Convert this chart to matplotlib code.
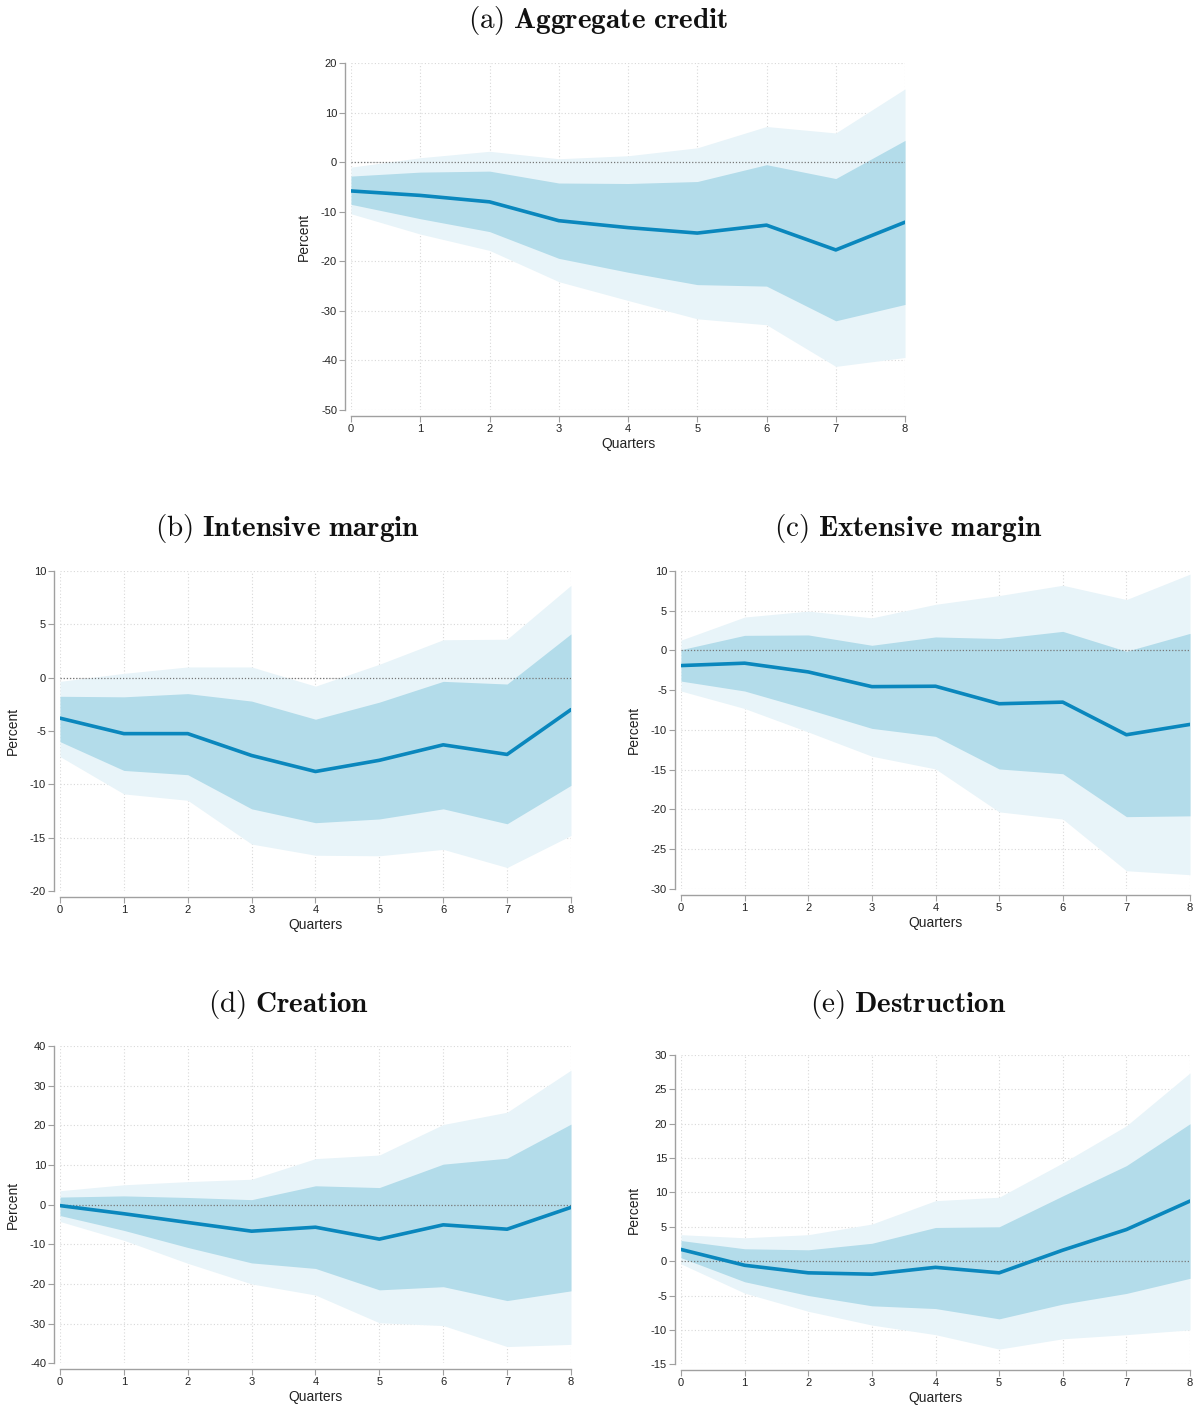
import numpy as np
import matplotlib
matplotlib.use('Agg')
import matplotlib.pyplot as plt

plt.rcParams['mathtext.fontset'] = 'cm'
plt.rcParams['font.family'] = ['Liberation Sans', 'DejaVu Sans']

quarters = [0, 1, 2, 3, 4, 5, 6, 7, 8]

# (a) Aggregate credit
agg_irf = [-5.8, -6.7, -8.0, -11.8, -13.2, -14.3, -12.7, -17.7, -12.1]
agg_hi68 = [-2.8, -2.0, -1.8, -4.2, -4.3, -3.9, -0.5, -3.3, 4.4]
agg_lo68 = [-8.5, -11.4, -14.0, -19.4, -22.2, -24.7, -25.0, -32.0, -28.7]
agg_hi90 = [-1.0, 0.9, 2.2, 0.7, 1.3, 2.9, 7.2, 5.9, 14.8]
agg_lo90 = [-10.4, -14.5, -17.8, -24.1, -27.9, -31.6, -32.8, -41.2, -39.4]

# (b) Intensive margin
int_irf = [-3.8, -5.25, -5.25, -7.3, -8.8, -7.75, -6.3, -7.2, -3.0]
int_hi68 = [-1.75, -1.8, -1.5, -2.2, -3.9, -2.3, -0.35, -0.6, 4.1]
int_lo68 = [-6.0, -8.7, -9.1, -12.3, -13.6, -13.25, -12.3, -13.7, -10.1]
int_hi90 = [-0.35, 0.4, 1.0, 1.0, -0.8, 1.25, 3.55, 3.6, 8.65]
int_lo90 = [-7.4, -10.9, -11.5, -15.6, -16.65, -16.7, -16.1, -17.8, -14.8]

# (c) Extensive margin
ext_irf = [-1.9, -1.6, -2.7, -4.55, -4.5, -6.7, -6.5, -10.6, -9.3]
ext_hi68 = [0.1, 1.9, 1.95, 0.65, 1.7, 1.5, 2.4, -0.1, 2.15]
ext_lo68 = [-3.85, -5.1, -7.4, -9.8, -10.8, -14.9, -15.5, -20.9, -20.8]
ext_hi90 = [1.3, 4.2, 4.95, 4.1, 5.8, 6.9, 8.2, 6.4, 9.6]
ext_lo90 = [-5.1, -7.3, -10.25, -13.3, -14.9, -20.3, -21.2, -27.7, -28.2]

# (d) Creation
cre_irf = [-0.25, -2.3, -4.5, -6.7, -5.7, -8.7, -5.1, -6.2, -0.7]
cre_hi68 = [1.9, 2.2, 1.8, 1.25, 4.75, 4.3, 10.2, 11.7, 20.3]
cre_lo68 = [-2.75, -6.5, -10.8, -14.7, -16.1, -21.5, -20.7, -24.2, -21.75]
cre_hi90 = [3.5, 5.0, 5.8, 6.4, 11.6, 12.5, 20.2, 23.3, 33.9]
cre_lo90 = [-4.25, -9.0, -14.8, -20.0, -22.8, -29.8, -30.5, -35.8, -35.25]

# (e) Destruction
des_irf = [1.7, -0.6, -1.7, -1.9, -0.9, -1.7, 1.6, 4.6, 8.75]
des_hi68 = [3.0, 1.8, 1.65, 2.6, 4.9, 5.0, 9.5, 13.9, 20.0]
des_lo68 = [0.5, -3.0, -5.0, -6.5, -6.9, -8.4, -6.25, -4.7, -2.5]
des_hi90 = [3.85, 3.4, 3.85, 5.4, 8.8, 9.3, 14.3, 19.7, 27.4]
des_lo90 = [-0.4, -4.65, -7.3, -9.3, -10.7, -12.8, -11.3, -10.7, -10.0]

line_col = '#0a87bd'
dark_band = '#b3dcea'
light_band = '#e8f4f9'


def make_panel(fig, rect, title, title_xy, irf, hi68, lo68, hi90, lo90, yticks):
    ax = fig.add_axes(rect)
    ax.fill_between(quarters, lo90, hi90, color=light_band, linewidth=0, zorder=1)
    ax.fill_between(quarters, lo68, hi68, color=dark_band, linewidth=0, zorder=2)
    ax.axhline(0, color='#777777', linestyle=(0, (1, 1.5)), linewidth=0.9, zorder=3)
    ax.plot(quarters, irf, color=line_col, linewidth=2.6, zorder=4,
            solid_capstyle='round')

    ax.set_xlim(0, 8)
    ax.set_ylim(yticks[0], yticks[-1])
    ax.set_xticks(quarters)
    ax.set_yticks(yticks)
    ax.set_yticklabels([str(t) for t in yticks])
    ax.grid(True, color='#d8d8d8', linestyle=(0, (1, 2)), linewidth=0.8, zorder=0)
    ax.set_axisbelow(True)

    for s in ['top', 'right']:
        ax.spines[s].set_visible(False)
    for s in ['left', 'bottom']:
        ax.spines[s].set_color('#a0a0a0')
        ax.spines[s].set_linewidth(1.0)
        ax.spines[s].set_position(('outward', 4))
    ax.tick_params(axis='both', labelsize=8, length=4, width=0.8,
                   color='#a0a0a0', labelcolor='#222222', pad=2)
    ax.set_xlabel('Quarters', fontsize=10, color='#222222', labelpad=2)
    ax.set_ylabel('Percent', fontsize=10, color='#222222', labelpad=7)
    # panel titles are centred on the whole sub-figure, not the axes
    fig.text(title_xy[0], title_xy[1], title, fontsize=21, color='#111111',
             ha='center', va='center')
    return ax


fig = plt.figure(figsize=(12, 14.08), dpi=100)

make_panel(fig, [0.2925, 0.7088, 0.4617, 0.2464],
           r'$\mathrm{(a)}\ \mathbf{Aggregate\ credit}$', (0.4985, 0.9855),
           agg_irf, agg_hi68, agg_lo68, agg_hi90, agg_lo90,
           [-50, -40, -30, -20, -10, 0, 10, 20])
make_panel(fig, [0.05, 0.3672, 0.4258, 0.2273],
           r'$\mathrm{(b)}\ \mathbf{Intensive\ margin}$', (0.24, 0.6245),
           int_irf, int_hi68, int_lo68, int_hi90, int_lo90,
           [-20, -15, -10, -5, 0, 5, 10])
make_panel(fig, [0.5675, 0.3686, 0.4242, 0.2259],
           r'$\mathrm{(c)}\ \mathbf{Extensive\ margin}$', (0.7567, 0.6245),
           ext_irf, ext_hi68, ext_lo68, ext_hi90, ext_lo90,
           [-30, -25, -20, -15, -10, -5, 0, 5, 10])
make_panel(fig, [0.05, 0.0318, 0.4258, 0.2253],
           r'$\mathrm{(d)}\ \mathbf{Creation}$', (0.24, 0.2865),
           cre_irf, cre_hi68, cre_lo68, cre_hi90, cre_lo90,
           [-40, -30, -20, -10, 0, 10, 20, 30, 40])
make_panel(fig, [0.5675, 0.0311, 0.4242, 0.2196],
           r'$\mathrm{(e)}\ \mathbf{Destruction}$', (0.7567, 0.2865),
           des_irf, des_hi68, des_lo68, des_hi90, des_lo90,
           [-15, -10, -5, 0, 5, 10, 15, 20, 25, 30])

fig.savefig('out.png', dpi=100)
